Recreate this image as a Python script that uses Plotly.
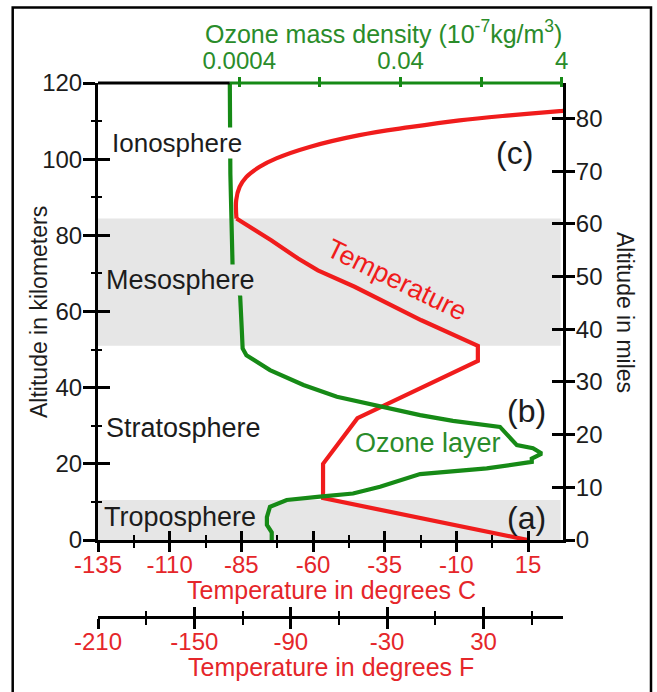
import math
import plotly.graph_objects as go

# --- Temperature profile (altitude km, temperature degrees C) ---
ALT_TEMP_KM = [0, 11, 20, 32, 47, 51, 57.7, 62.1, 66.5, 70.8, 73.9, 78.7, 84.4,
               89.2, 92.7, 95.3, 98.0, 100.2, 103.2, 106.3, 108.4, 110.2, 111.5,
               112.6, 113.0]
TEMP_C = [15, -56.5, -56.5, -44.5, -2.5, -2.5, -22.2, -33.9, -45.5, -58.3, -65.2,
          -74.6, -86.7, -86.8, -85.6, -83.3, -78.6, -72.8, -61.2, -43.8, -26.3,
          -8.9, 8.6, 26.0, 34.0]
MESOPAUSE_INDEX = 12   # profile turns smooth above this point

# --- Ozone profile (altitude km, ozone mass density 1e-7 kg/m3) ---
ALT_OZONE_KM = [0, 2, 4, 6, 8.7, 10.5, 11.4, 12.2, 14.0, 17.3, 18.8, 20.5, 21.4,
                22.7, 24.1, 24.9, 29.7, 31.3, 32.8, 34.9, 37.6, 40.7, 44.6, 48.5,
                50.3, 55, 64, 72, 84, 96, 120]
OZONE = [0.00101, 0.00101, 0.00088, 0.00088, 0.00096, 0.00155, 0.0040, 0.0103,
         0.0223, 0.070, 0.47, 1.70, 1.70, 2.26, 1.76, 1.11, 0.686, 0.179, 0.070,
         0.0243, 0.0065, 0.0025, 0.00096, 0.00049, 0.00044, 0.00043, 0.00041,
         0.00033, 0.00032, 0.00031, 0.000305]

# --- Shaded layers (km) ---
MESOSPHERE_KM = [51, 84.4]
TROPOSPHERE_KM = [0, 10.5]

# --- Axis ticks ---
KM_TICKS = [0, 20, 40, 60, 80, 100, 120]
KM_MINOR = 10
MILE_TICKS = [0, 10, 20, 30, 40, 50, 60, 70, 80]
C_TICKS = [-135, -110, -85, -60, -35, -10, 15]
C_MINOR = 12.5
F_TICKS = [-210, -150, -90, -30, 30]
F_MINOR = 30
OZONE_TICKS = [0.0004, 0.004, 0.04, 0.4, 4]
OZONE_TICK_TEXT = ["0.0004", "", "0.04", "", "4"]

# --- Axis ranges ---
KM_RANGE = [0, 120]
MILE_RANGE = [0, 86.76]
C_RANGE = [-135, 27.2]
F_RANGE = [-210, 79.5]
OZ_RANGE = [-5.151, 0.618]   # log10 units

# --- Page geometry ---
W, H = 657, 692
ML, MR, MT, MB = 98, 94, 83, 0
PW, PH = W - ML - MR, H - MT - MB
Y_DOM0 = (H - 540) / PH
F_POS = (H - 617) / PH

FONT = "Liberation Sans, Arial, Helvetica, sans-serif"
RED = "#f01c1c"
RED_TXT = "#e5262a"
GREEN = "#168a16"
GREEN_TXT = "#2a8c2a"
DARK = "#1c1c1c"
BAND = "#e6e6e6"


def px(xp):
    return (xp - ML) / PW


def py(yp):
    return (H - yp) / PH


def txt(values):
    return [f"{v:g}" for v in values]


fig = go.Figure()

# temperature: straight segments up to the mesopause, smooth above it
fig.add_trace(go.Scatter(
    x=TEMP_C[:MESOPAUSE_INDEX + 1], y=ALT_TEMP_KM[:MESOPAUSE_INDEX + 1],
    xaxis="x", yaxis="y", mode="lines",
    line=dict(color=RED, width=4.2), hoverinfo="skip"))
fig.add_trace(go.Scatter(
    x=TEMP_C[MESOPAUSE_INDEX:], y=ALT_TEMP_KM[MESOPAUSE_INDEX:],
    xaxis="x", yaxis="y", mode="lines",
    line=dict(color=RED, width=4.2, shape="spline", smoothing=1.0),
    hoverinfo="skip"))

fig.add_trace(go.Scatter(
    x=OZONE, y=ALT_OZONE_KM, xaxis="x2", yaxis="y", mode="lines",
    line=dict(color=GREEN, width=4.2), hoverinfo="skip"))

# empty traces so that every secondary axis gets drawn
for xa, ya in [("x3", "y"), ("x4", "y"), ("x5", "y"), ("x6", "y"),
               ("x", "y2"), ("x", "y3"), ("x", "y4")]:
    fig.add_trace(go.Scatter(x=[], y=[], xaxis=xa, yaxis=ya, mode="lines",
                             hoverinfo="skip", showlegend=False))

tick_font = dict(family=FONT, size=24, color=DARK)
red_font = dict(family=FONT, size=24, color=RED_TXT)
green_font = dict(family=FONT, size=24, color=GREEN_TXT)
common = dict(showgrid=False, zeroline=False, fixedrange=True)

layout = dict(
    width=W, height=H,
    margin=dict(l=ML, r=MR, t=MT, b=MB, autoexpand=False),
    paper_bgcolor="white", plot_bgcolor="white", showlegend=False,
    font=dict(family=FONT, color=DARK),
    # Celsius axis (bottom)
    xaxis=dict(range=C_RANGE, domain=[0, 1], anchor="y", side="bottom",
               showline=True, linecolor="black", linewidth=3,
               tickmode="array", tickvals=C_TICKS, ticktext=txt(C_TICKS),
               ticks="outside", ticklen=9, tickwidth=2.5, tickcolor="black",
               tickfont=red_font, ticklabelstandoff=-8,
               minor=dict(tickmode="linear", tick0=C_TICKS[0], dtick=C_MINOR,
                          ticks="outside", ticklen=5, tickwidth=2,
                          tickcolor="black"),
               **common),
    xaxis4=dict(range=C_RANGE, overlaying="x", anchor="y", side="bottom",
                showline=False, tickmode="array", tickvals=C_TICKS,
                ticks="inside", ticklen=9, tickwidth=2.5, tickcolor="black",
                showticklabels=False,
                minor=dict(tickmode="linear", tick0=C_TICKS[0], dtick=C_MINOR,
                           ticks="inside", ticklen=5, tickwidth=2,
                           tickcolor="black"),
                **common),
    # Ozone axis (top, log)
    xaxis2=dict(type="log", range=OZ_RANGE, overlaying="x", anchor="y",
                side="top", showline=False, tickmode="array",
                tickvals=OZONE_TICKS, ticktext=OZONE_TICK_TEXT,
                ticks="outside", ticklen=5, tickwidth=2.5, tickcolor=GREEN,
                tickfont=green_font, ticklabelstandoff=-2, **common),
    xaxis6=dict(type="log", range=OZ_RANGE, overlaying="x", anchor="y",
                side="top", showline=False, tickmode="array",
                tickvals=OZONE_TICKS, ticks="inside", ticklen=4,
                tickwidth=2.5, tickcolor=GREEN, showticklabels=False, **common),
    # Fahrenheit axis (free, below)
    xaxis3=dict(range=F_RANGE, overlaying="x", anchor="free", position=F_POS,
                side="bottom", showline=True, linecolor="black", linewidth=3,
                tickmode="array", tickvals=F_TICKS, ticktext=txt(F_TICKS),
                ticks="outside", ticklen=10, tickwidth=2.5, tickcolor="black",
                tickfont=red_font, ticklabelstandoff=-8,
                minor=dict(tickmode="linear", tick0=F_TICKS[0], dtick=F_MINOR,
                           ticks="outside", ticklen=6, tickwidth=2,
                           tickcolor="black"),
                **common),
    xaxis5=dict(range=F_RANGE, overlaying="x", anchor="free", position=F_POS,
                side="bottom", showline=False, tickmode="array",
                tickvals=F_TICKS, ticks="inside", ticklen=10, tickwidth=2.5,
                tickcolor="black", showticklabels=False,
                minor=dict(tickmode="linear", tick0=F_TICKS[0], dtick=F_MINOR,
                           ticks="inside", ticklen=6, tickwidth=2,
                           tickcolor="black"),
                **common),
    # Kilometre axis (left)
    yaxis=dict(range=KM_RANGE, domain=[Y_DOM0, 1], anchor="x", side="left",
               showline=True, linecolor="black", linewidth=3,
               tickmode="array", tickvals=KM_TICKS, ticktext=txt(KM_TICKS),
               ticks="outside", ticklen=12, tickwidth=2.5, tickcolor="black",
               tickfont=tick_font, ticklabelstandoff=-4,
               minor=dict(tickmode="linear", tick0=KM_TICKS[0], dtick=KM_MINOR,
                          ticks="outside", ticklen=4, tickwidth=2,
                          tickcolor="black"),
               **common),
    yaxis3=dict(range=KM_RANGE, overlaying="y", anchor="x", side="left",
                showline=False, tickmode="array", tickvals=KM_TICKS,
                ticks="inside", ticklen=12, tickwidth=2.5,
                tickcolor="black", showticklabels=False,
                minor=dict(tickmode="linear", tick0=KM_TICKS[0], dtick=KM_MINOR,
                           ticks="inside", ticklen=4, tickwidth=2,
                           tickcolor="black"),
                **common),
    # Mile axis (right)
    yaxis2=dict(range=MILE_RANGE, overlaying="y", anchor="x", side="right",
                showline=True, linecolor="black", linewidth=3,
                tickmode="array", tickvals=MILE_TICKS, ticktext=txt(MILE_TICKS),
                ticks="outside", ticklen=9, tickwidth=2.5, tickcolor="black",
                tickfont=tick_font, ticklabelstandoff=-4, **common),
    yaxis4=dict(range=MILE_RANGE, overlaying="y", anchor="x", side="right",
                showline=False, tickmode="array", tickvals=MILE_TICKS,
                ticks="inside", ticklen=11, tickwidth=2.5, tickcolor="black",
                showticklabels=False, **common),
)
fig.update_layout(**layout)

# Where the ozone axis line begins (at the top end of the ozone profile)
oz_start = (math.log10(OZONE[-1]) - OZ_RANGE[0]) / (OZ_RANGE[1] - OZ_RANGE[0])

shapes = [
    dict(type="rect", xref="x domain", yref="y", x0=0, x1=0.995,
         y0=MESOSPHERE_KM[0], y1=MESOSPHERE_KM[1], fillcolor=BAND,
         line=dict(width=0), layer="below"),
    dict(type="rect", xref="x domain", yref="y", x0=0, x1=0.995,
         y0=TROPOSPHERE_KM[0], y1=TROPOSPHERE_KM[1], fillcolor=BAND,
         line=dict(width=0), layer="below"),
    # top border: black part, then the green ozone axis line
    dict(type="line", xref="x domain", yref="y domain", x0=0, x1=oz_start,
         y0=1, y1=1, line=dict(color="black", width=3)),
    dict(type="line", xref="x2 domain", yref="y domain", x0=oz_start, x1=1,
         y0=1, y1=1, line=dict(color=GREEN, width=3)),
    # outer frame
    dict(type="rect", xref="paper", yref="paper", x0=px(12.7), x1=px(651),
         y0=py(720), y1=py(7.5), line=dict(color="black", width=2.5),
         fillcolor="rgba(0,0,0,0)"),
]
fig.update_layout(shapes=shapes)


def label(text, x, y, size=27, color=DARK, xanchor="left", bg=None, angle=0):
    a = dict(text=text, x=x, y=y, xref="x", yref="y", showarrow=False,
             xanchor=xanchor, yanchor="middle", textangle=angle,
             font=dict(family=FONT, size=size, color=color), borderpad=0)
    if bg:
        a["bgcolor"] = bg
    return a


def title(text, xp, yp, size, color, angle=0):
    return dict(text=text, x=px(xp), y=py(yp), xref="paper", yref="paper",
                showarrow=False, xanchor="center", yanchor="middle",
                textangle=angle, font=dict(family=FONT, size=size, color=color))


annotations = [
    label("Ionosphere", -130.3, 104.2, size=26, bg="white"),
    label("Mesosphere", -132.4, 68.2, bg=BAND),
    label("Stratosphere", -132.4, 29.4),
    label("Troposphere", -133.4, 6.0),
    label("Temperature", -30.7, 68.2, color=RED, xanchor="center", angle=26),
    label("Ozone layer", -20.0, 25.4, color=GREEN_TXT, xanchor="center"),
    label("(c)", 10.4, 101.5, size=32, xanchor="center"),
    label("(b)", 14.6, 33.8, size=32, xanchor="center"),
    label("(a)", 14.6, 5.8, size=32, xanchor="center"),
    title("Ozone mass density (10<sup>-7</sup>kg/m<sup>3</sup>)", 383, 32, 25,
          GREEN_TXT),
    title("Temperature in degrees C", 331, 590, 25, RED_TXT),
    title("Temperature in degrees F", 331, 667, 25, RED_TXT),
    title("Altitude in kilometers", 39, 312, 23, DARK, angle=-90),
    title("Altitude in miles", 625, 312, 23, DARK, angle=90),
]
fig.update_layout(annotations=annotations)

fig.write_html("out.html", config=dict(displayModeBar=False))
